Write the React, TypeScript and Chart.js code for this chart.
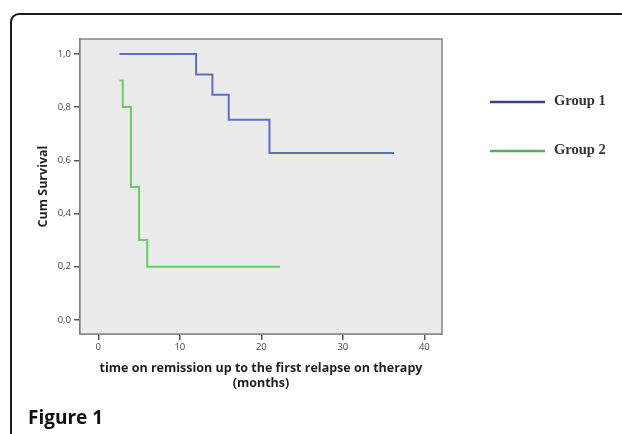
import React, { useEffect, useRef } from "react";
import { Chart, registerables } from "chart.js";

Chart.register(...registerables);

const seriesNames = ["Group 1", "Group 2"];
const group1Time = [2.6, 12, 14, 16, 21, 36.3];
const group1Surv = [1.0, 0.923, 0.846, 0.752, 0.627, 0.627];
const group2Time = [2.6, 3, 4, 5, 6, 22.3];
const group2Surv = [0.9, 0.8, 0.5, 0.3, 0.2, 0.2];
const xTickValues = [0, 10, 20, 30, 40];
const xTickLabels = ["0", "10", "20", "30", "40"];
const yTickValues = [0, 0.2, 0.4, 0.6, 0.8, 1.0];
const yTickLabels = ["0,0", "0,2", "0,4", "0,6", "0,8", "1,0"];
const xTitle = ["time on remission up to the first relapse on therapy", "(months)"];
const yTitle = "Cum Survival";
const lineColors = ["#5f6fbf", "#6acb6a"];
const legendColors = ["#3d4190", "#52b452"];

const bgPlugin = {
  id: "plotBg",
  beforeDatasetsDraw(chart: any) {
    const { ctx, chartArea: a } = chart;
    ctx.save();
    ctx.fillStyle = "#ebebeb";
    ctx.fillRect(a.left, a.top, a.right - a.left, a.bottom - a.top);
    ctx.strokeStyle = "#858585";
    ctx.lineWidth = 1.5;
    ctx.strokeRect(a.left, a.top, a.right - a.left, a.bottom - a.top);
    ctx.restore();
  },
};

const legendPlugin = {
  id: "customLegend",
  afterDraw(chart: any) {
    const { ctx } = chart;
    const ys = [102, 151];
    ctx.save();
    chart.data.datasets.forEach((ds: any, i: number) => {
      ctx.strokeStyle = legendColors[i];
      ctx.lineWidth = 2.5;
      ctx.beginPath();
      ctx.moveTo(490, ys[i]);
      ctx.lineTo(545, ys[i]);
      ctx.stroke();
      ctx.fillStyle = "#333";
      ctx.font = "bold 14.5px 'Liberation Serif', serif";
      ctx.textBaseline = "middle";
      ctx.textAlign = "left";
      ctx.fillText(ds.label, 554, ys[i] - 1);
    });
    ctx.restore();
  },
};

function toPoints(xs: number[], ys: number[]) {
  return xs.map((x, i) => ({ x, y: ys[i] }));
}

export default function App() {
  const ref = useRef<HTMLCanvasElement>(null);
  useEffect(() => {
    const canvas = ref.current!;
    const chart = new Chart(canvas, {
      type: "line",
      data: {
        datasets: [
          {
            label: seriesNames[0],
            data: toPoints(group1Time, group1Surv),
            borderColor: lineColors[0],
            borderWidth: 2,
            pointRadius: 0,
            stepped: "before",
            fill: false,
          },
          {
            label: seriesNames[1],
            data: toPoints(group2Time, group2Surv),
            borderColor: lineColors[1],
            borderWidth: 2,
            pointRadius: 0,
            stepped: "before",
            fill: false,
          },
        ],
      },
      options: {
        animation: false,
        responsive: false,
        devicePixelRatio: 1,
        layout: { padding: { left: 0, right: 180, top: 39, bottom: 0 } },
        plugins: { legend: { display: false }, tooltip: { enabled: false } },
        scales: {
          x: {
            type: "linear",
            min: -2.25,
            max: 42.17,
            afterBuildTicks: (s: any) => {
              s.ticks = xTickValues.map((v) => ({ value: v }));
            },
            afterFit: (s: any) => {
              s.height = 100;
            },
            ticks: {
              callback: (v: any) => xTickLabels[xTickValues.indexOf(Number(v))] ?? "",
              font: { family: "'Open Sans', sans-serif", size: 9.5 },
              color: "#444",
              padding: 2,
              maxRotation: 0,
            },
            grid: { drawOnChartArea: false, drawTicks: true, tickLength: 6, color: "#555", lineWidth: 1.5 },
            border: { display: true, color: "#666", width: 1.5 },
            title: {
              display: true,
              text: xTitle,
              font: { family: "'Open Sans', sans-serif", size: 12.5, weight: "bold", lineHeight: 15 / 12.5 },
              color: "#222",
              padding: { top: 0, bottom: 43.5 },
            },
          },
          y: {
            type: "linear",
            min: -0.053,
            max: 1.056,
            afterBuildTicks: (s: any) => {
              s.ticks = yTickValues.map((v) => ({ value: v }));
            },
            afterFit: (s: any) => {
              s.width = 80;
            },
            ticks: {
              callback: (v: any) => {
                const i = yTickValues.findIndex((t) => Math.abs(t - Number(v)) < 1e-6);
                return i >= 0 ? yTickLabels[i] : "";
              },
              font: { family: "'Open Sans', sans-serif", size: 9.5 },
              color: "#444",
              padding: 3,
            },
            grid: { drawOnChartArea: false, drawTicks: true, tickLength: 6, color: "#555", lineWidth: 1.5 },
            border: { display: true, color: "#666", width: 1.5 },
            title: {
              display: true,
              text: yTitle,
              font: { family: "'Open Sans', sans-serif", size: 12.5, weight: "bold", lineHeight: 1.2 },
              color: "#222",
              padding: { top: 36, bottom: 0 },
            },
          },
        },
      },
      plugins: [bgPlugin, legendPlugin],
    } as any);
    return () => chart.destroy();
  }, []);

  return (
    <div style={{ position: "fixed", left: 0, top: 0, width: 622, height: 434, background: "#fff", overflow: "hidden" }}>
      <div
        style={{
          position: "absolute",
          left: 10,
          top: 13,
          width: 700,
          height: 600,
          border: "2px solid #1c1c1c",
          borderRadius: 9,
          boxSizing: "border-box",
        }}
      />
      <canvas ref={ref} width={622} height={434} style={{ position: "absolute", left: 0, top: 0, width: 622, height: 434 }} />
      <div
        style={{
          position: "absolute",
          left: 28,
          top: 404,
          fontFamily: "'Open Sans', sans-serif",
          fontWeight: 700,
          fontSize: 19,
          lineHeight: "26px",
          color: "#111",
        }}
      >
        Figure 1
      </div>
    </div>
  );
}
